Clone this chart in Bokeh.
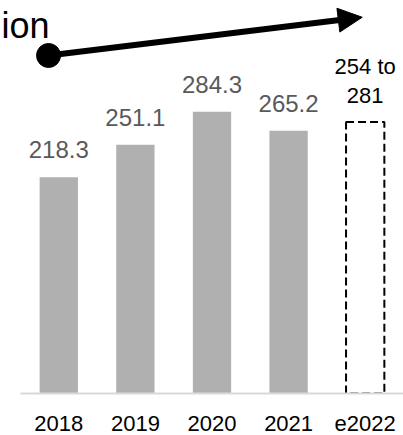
from bokeh.plotting import figure
from bokeh.models import ColumnDataSource, Range1d, Arrow, NormalHead, FixedTicker
from bokeh.core.properties import value
from bokeh.embed import file_html
from bokeh.resources import INLINE

# ---- data ----
categories = ["2018", "2019", "2020", "2021", "e2022"]
actual_years = ["2018", "2019", "2020", "2021"]
actual_values = [218.3, 251.1, 284.3, 265.2]
estimate_year = "e2022"
estimate_low = 254
estimate_high = 281
estimate_box = 274  # height of the dashed estimate box as drawn
title_fragment = "ion"

FONT = value("Liberation Sans")

# category -> slot centre on a numeric axis
pos = {c: i + 0.5 for i, c in enumerate(categories)}

p = figure(
    frame_width=403, frame_height=393,
    x_range=Range1d(-0.261, len(categories)),
    y_range=Range1d(0, 396.6),
    output_backend="svg", toolbar_location=None,
    min_border_left=0, min_border_right=0, min_border_top=0, min_border_bottom=42,
)
p.outline_line_color = None
p.xgrid.grid_line_color = None
p.ygrid.grid_line_color = None
p.yaxis.visible = False
p.background_fill_color = "white"
p.border_fill_color = "white"

# actual bars
src = ColumnDataSource(dict(x=[pos[c] for c in actual_years], top=actual_values,
                            label=[f"{v:.1f}" for v in actual_values]))
p.vbar(x="x", top="top", width=0.5, source=src, fill_color="#b0b0b0", line_color=None)
p.text(x="x", y="top", text="label", source=src, text_align="center",
       text_baseline="bottom", y_offset=-19, text_font=FONT,
       text_font_size="24px", text_color="#595959")

# estimate dashed box
ex = pos[estimate_year]
p.vbar(x=[ex], top=[estimate_box], width=0.5, fill_color=None,
       line_color="black", line_dash="8 4", line_width=2)
p.text(x=[ex], y=[estimate_box], text=[f"{estimate_low} to"],
       text_align="center", text_baseline="bottom", y_offset=-43,
       text_font=FONT, text_font_size="22px", text_color="black")
p.text(x=[ex], y=[estimate_box], text=[f"{estimate_high}"],
       text_align="center", text_baseline="bottom", y_offset=-19,
       text_font=FONT, text_font_size="22px", text_color="black")

# trend arrow annotation
arrow_start = (0.366, 341.1)
arrow_end = (4.461, 379.7)
p.add_layout(Arrow(end=NormalHead(size=24, fill_color="black", line_color="black"),
                   x_start=arrow_start[0], y_start=arrow_start[1],
                   x_end=arrow_end[0], y_end=arrow_end[1],
                   line_width=6, line_color="black"))
p.scatter(x=[arrow_start[0]], y=[arrow_start[1]], size=24, color="black")

# title fragment
p.text(x=[0.379], y=[359.2], text=[title_fragment], text_align="right",
       text_baseline="bottom", y_offset=8, text_font=FONT, text_font_size="36px",
       text_color="black")

# x axis (categorical labels on fixed ticks)
ax = p.xaxis[0]
ax.ticker = FixedTicker(ticks=[pos[c] for c in categories])
ax.major_label_overrides = {pos[c]: c for c in categories}
ax.bounds = (0, len(categories))
ax.axis_line_color = "#d9d9d9"
ax.axis_line_width = 2
ax.major_tick_line_color = None
ax.minor_tick_line_color = None
ax.major_label_standoff = 16
ax.major_label_text_font = "Liberation Sans"
ax.major_label_text_font_size = "22px"
ax.major_label_text_color = "black"

open("out.html", "w").write(file_html(p, INLINE))
